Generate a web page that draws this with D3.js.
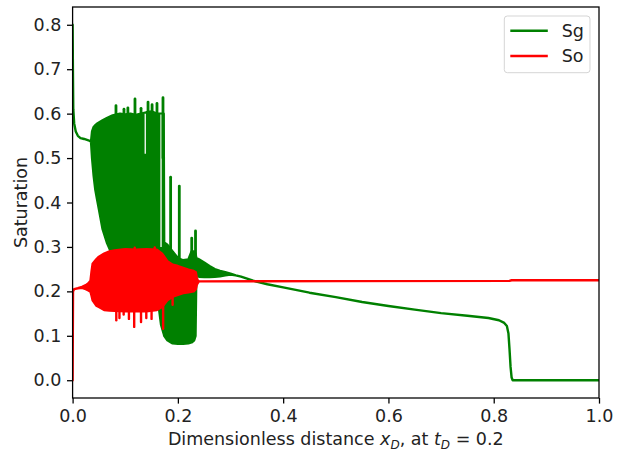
<!DOCTYPE html>
<html>
<head>
<meta charset="utf-8">
<script src="https://cdn.jsdelivr.net/npm/d3@7"></script>
<style>
    body { margin: 0; background: #fff; }
    svg text { font-family: "DejaVu Sans", sans-serif; }
</style>
</head>
<body>
<div id="chart"></div>
<script>
// Sg: where the curve oscillates densely it is kept as an upper / lower envelope
var sgX = [0, 0.0006, 0.0013, 0.003, 0.006, 0.010, 0.015, 0.022, 0.030, 0.035,
    0.037, 0.040, 0.043, 0.046, 0.050, 0.057, 0.065, 0.076, 0.090, 0.100,
    0.110, 0.120, 0.130, 0.140, 0.150, 0.160, 0.168, 0.173, 0.174, 0.180,
    0.190, 0.200, 0.210, 0.220, 0.226, 0.231, 0.2335, 0.235, 0.240, 0.250,
    0.260, 0.270, 0.280, 0.290, 0.300, 0.310, 0.320, 0.343, 0.370, 0.400,
    0.450, 0.500, 0.550, 0.600, 0.650, 0.700, 0.750, 0.790, 0.810, 0.820,
    0.825, 0.828, 0.830, 0.832, 0.834, 0.836, 1.000];
var sgUpper = [0.800, 0.700, 0.610, 0.578, 0.560, 0.550, 0.545, 0.543, 0.540, 0.537,
    0.560, 0.570, 0.574, 0.577, 0.580, 0.585, 0.590, 0.596, 0.600, 0.598,
    0.600, 0.597, 0.600, 0.603, 0.605, 0.600, 0.600, 0.600, 0.310, 0.305,
    0.290, 0.275, 0.270, 0.272, 0.290, 0.290, 0.285, 0.275, 0.272, 0.265,
    0.257, 0.250, 0.246, 0.243, 0.240, 0.236, 0.233, 0.224, 0.216, 0.209,
    0.197, 0.187, 0.176, 0.167, 0.159, 0.151, 0.145, 0.140, 0.135, 0.129,
    0.122, 0.105, 0.070, 0.030, 0.006, 0.000, 0.000];
var sgLower = [0.800, 0.700, 0.610, 0.578, 0.560, 0.550, 0.545, 0.543, 0.540, 0.537,
    0.500, 0.460, 0.430, 0.410, 0.385, 0.340, 0.310, 0.280, 0.265, 0.255,
    0.250, 0.245, 0.240, 0.235, 0.225, 0.200, 0.125, 0.105, 0.100, 0.090,
    0.083, 0.082, 0.082, 0.083, 0.085, 0.090, 0.100, 0.235, 0.233, 0.232,
    0.232, 0.233, 0.234, 0.236, 0.238, 0.236, 0.233, 0.224, 0.216, 0.209,
    0.197, 0.187, 0.176, 0.167, 0.159, 0.151, 0.145, 0.140, 0.135, 0.129,
    0.122, 0.105, 0.070, 0.030, 0.006, 0.000, 0.000];

// tall single Sg spikes
var sgSpikeX = [0.0824, 0.0976, 0.105, 0.1185, 0.130, 0.1433, 0.151, 0.1603, 0.1717, 0.1862, 0.2027, 0.2263, 0.2335];
var sgSpikeTop = [0.618, 0.610, 0.613, 0.633, 0.612, 0.626, 0.620, 0.623, 0.636, 0.457, 0.437, 0.320, 0.336];
var sgSpikeBase = [0.50, 0.50, 0.50, 0.50, 0.50, 0.50, 0.50, 0.50, 0.50, 0.25, 0.25, 0.25, 0.25];

// white gaps inside the Sg band
var sgGapX = [0.138, 0.168];
var sgGapTop = [0.600, 0.598];
var sgGapBottom = [0.510, 0.300];

// So
var soX = [0, 0.0008, 0.003, 0.010, 0.018, 0.025, 0.030, 0.034, 0.036, 0.038,
    0.045, 0.050, 0.060, 0.070, 0.080, 0.100, 0.120, 0.140, 0.160, 0.170,
    0.180, 0.190, 0.200, 0.210, 0.220, 0.230, 0.234, 0.236, 0.238, 0.240,
    0.500, 0.830, 0.834, 1.000];
var soUpper = [0.000, 0.200, 0.205, 0.207, 0.210, 0.214, 0.218, 0.224, 0.245, 0.262,
    0.272, 0.278, 0.285, 0.290, 0.292, 0.295, 0.294, 0.295, 0.294, 0.285,
    0.268, 0.260, 0.257, 0.253, 0.249, 0.246, 0.243, 0.230, 0.224, 0.2225,
    0.223, 0.2235, 0.225, 0.225];
var soLower = [0.000, 0.200, 0.205, 0.207, 0.208, 0.205, 0.202, 0.199, 0.190, 0.180,
    0.168, 0.165, 0.158, 0.157, 0.156, 0.155, 0.155, 0.155, 0.158, 0.165,
    0.180, 0.188, 0.192, 0.196, 0.198, 0.200, 0.205, 0.215, 0.219, 0.2225,
    0.223, 0.2235, 0.225, 0.225];

var soSpikeX = [0.083, 0.089, 0.097, 0.107, 0.117, 0.130, 0.140, 0.150, 0.172, 0.190, 0.118, 0.156];
var soSpikeEnd = [0.135, 0.140, 0.148, 0.138, 0.120, 0.131, 0.140, 0.138, 0.116, 0.170, 0.298, 0.299];
var soSpikeBase = [0.20, 0.20, 0.20, 0.20, 0.20, 0.20, 0.20, 0.20, 0.20, 0.20, 0.25, 0.25];

var xTicks = [0, 0.2, 0.4, 0.6, 0.8, 1.0];
var yTicks = [0, 0.1, 0.2, 0.3, 0.4, 0.5, 0.6, 0.7, 0.8];

var seriesNames = ["Sg", "So"];
var seriesColors = ["#008000", "#ff0000"];

var W = 621, H = 454;
var FONT = "17.5px";
var margin = { top: 7, right: 22, bottom: 56, left: 72.6 },
    width = W - margin.left - margin.right,
    height = H - margin.top - margin.bottom;

var svg = d3.select("#chart")
    .append("svg")
    .attr("width", W)
    .attr("height", H);

var g = svg.append("g")
    .attr("transform", "translate(" + margin.left + "," + margin.top + ")");

var x = d3.scaleLinear().domain([0, 1]).range([0, width]);
var y = d3.scaleLinear().domain([-0.04, 0.84]).range([height, 0]);

// clip to the axes box
g.append("clipPath").attr("id", "clip")
    .append("rect").attr("width", width).attr("height", height);
var plot = g.append("g").attr("clip-path", "url(#clip)");

function band(xs, up, lo) {
    return d3.area()
        .x(function (d) { return x(xs[d]); })
        .y0(function (d) { return y(lo[d]); })
        .y1(function (d) { return y(up[d]); })(d3.range(xs.length));
}

// Sg
plot.append("path")
    .attr("d", band(sgX, sgUpper, sgLower))
    .attr("fill", seriesColors[0])
    .attr("stroke", seriesColors[0])
    .attr("stroke-width", 2.4)
    .attr("stroke-linejoin", "round");

plot.selectAll(".sgGap")
    .data(sgGapX)
    .enter().append("line")
    .attr("class", "sgGap")
    .attr("x1", function (d) { return x(d); })
    .attr("x2", function (d) { return x(d); })
    .attr("y1", function (d, i) { return y(sgGapTop[i]); })
    .attr("y2", function (d, i) { return y(sgGapBottom[i]); })
    .attr("stroke", "#fff")
    .attr("stroke-width", 1.3);

plot.selectAll(".sgSpike")
    .data(sgSpikeX)
    .enter().append("line")
    .attr("class", "sgSpike")
    .attr("x1", function (d) { return x(d); })
    .attr("x2", function (d) { return x(d); })
    .attr("y1", function (d, i) { return y(sgSpikeBase[i]); })
    .attr("y2", function (d, i) { return y(sgSpikeTop[i]); })
    .attr("stroke", seriesColors[0])
    .attr("stroke-width", 2.8)
    .attr("stroke-linecap", "round");

// So
plot.append("path")
    .attr("d", band(soX, soUpper, soLower))
    .attr("fill", seriesColors[1])
    .attr("stroke", seriesColors[1])
    .attr("stroke-width", 2.4)
    .attr("stroke-linejoin", "round");

plot.selectAll(".soSpike")
    .data(soSpikeX)
    .enter().append("line")
    .attr("class", "soSpike")
    .attr("x1", function (d) { return x(d); })
    .attr("x2", function (d) { return x(d); })
    .attr("y1", function (d, i) { return y(soSpikeBase[i]); })
    .attr("y2", function (d, i) { return y(soSpikeEnd[i]); })
    .attr("stroke", seriesColors[1])
    .attr("stroke-width", 2.4)
    .attr("stroke-linecap", "round");

// axes
var xAxis = g.append("g")
    .attr("transform", "translate(0," + height + ")")
    .call(d3.axisBottom(x).tickValues(xTicks).tickFormat(d3.format(".1f"))
        .tickSize(5.6).tickPadding(5.6));
var yAxis = g.append("g")
    .call(d3.axisLeft(y).tickValues(yTicks).tickFormat(d3.format(".1f"))
        .tickSize(5.6).tickPadding(5.6));

[xAxis, yAxis].forEach(function (a) {
    a.select(".domain").remove();
    a.selectAll(".tick line").attr("stroke", "#000").attr("stroke-width", 1.28);
    a.selectAll(".tick text").attr("fill", "#222")
        .style("font-size", FONT)
        .style("font-family", "DejaVu Sans");
});

g.append("rect")
    .attr("width", width)
    .attr("height", height)
    .attr("fill", "none")
    .attr("stroke", "#000")
    .attr("stroke-width", 1.28);

// x label with math text
var xl = g.append("text")
    .attr("x", width / 2)
    .attr("y", height + 47)
    .attr("text-anchor", "middle")
    .attr("fill", "#222")
    .style("font-size", FONT);
xl.append("tspan").text("Dimensionless distance ");
xl.append("tspan").style("font-style", "italic").text("x");
xl.append("tspan").attr("dy", 3.5).style("font-size", "12px").style("font-style", "italic").text("D");
xl.append("tspan").attr("dy", -3.5).text(", at ");
xl.append("tspan").style("font-style", "italic").text("t");
xl.append("tspan").attr("dy", 3.5).style("font-size", "12px").style("font-style", "italic").text("D");
xl.append("tspan").attr("dy", -3.5).text(" = 0.2");

g.append("text")
    .attr("transform", "translate(" + (-46) + "," + (height / 2) + ") rotate(-90)")
    .attr("text-anchor", "middle")
    .attr("fill", "#222")
    .style("font-size", FONT)
    .text("Saturation");

// legend
var legend = svg.append("g").attr("transform", "translate(504.3,16)");
legend.append("rect")
    .attr("width", 85.7)
    .attr("height", 56.7)
    .attr("rx", 3)
    .attr("fill", "#fff")
    .attr("fill-opacity", 0.8)
    .attr("stroke", "#d5d5d5")
    .attr("stroke-width", 1);
seriesNames.forEach(function (name, i) {
    var ly = 14.7 + i * 25.3;
    legend.append("line")
        .attr("x1", 6).attr("x2", 43.5)
        .attr("y1", ly).attr("y2", ly)
        .attr("stroke", seriesColors[i])
        .attr("stroke-width", 2.4);
    legend.append("text")
        .attr("x", 57.4)
        .attr("y", ly + 6)
        .attr("fill", "#222")
        .style("font-size", FONT)
        .text(name);
});
</script>
</body>
</html>
